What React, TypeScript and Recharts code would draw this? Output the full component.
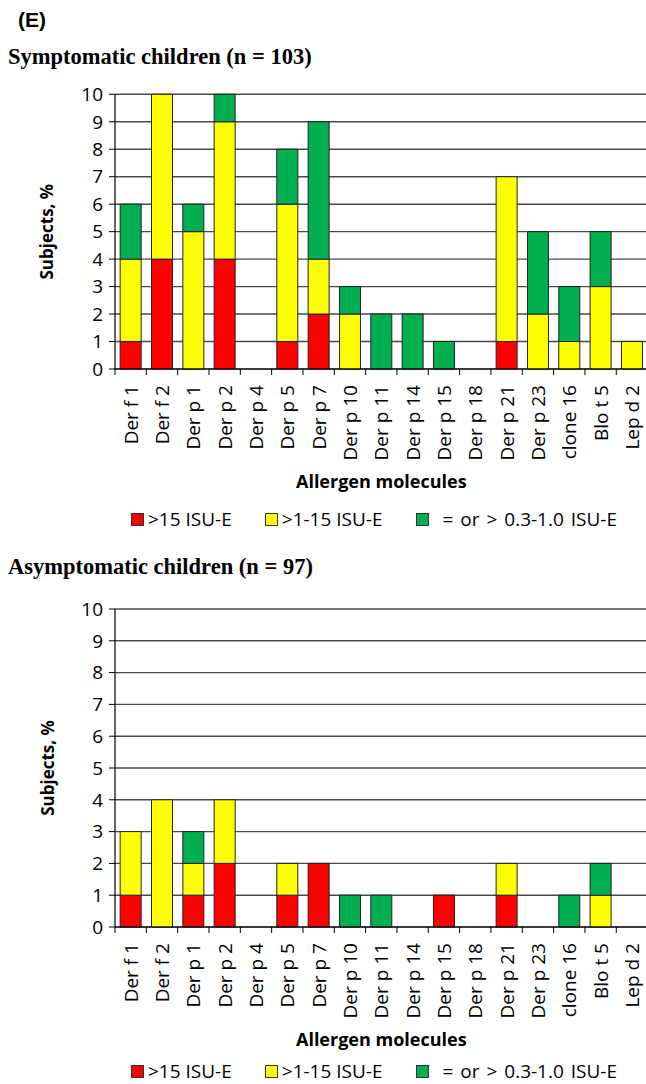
import { BarChart, Bar, XAxis, YAxis, CartesianGrid, Legend } from 'recharts'

const allergens = [
  'Der f 1', 'Der f 2', 'Der p 1', 'Der p 2', 'Der p 4', 'Der p 5', 'Der p 7', 'Der p 10',
  'Der p 11', 'Der p 14', 'Der p 15', 'Der p 18', 'Der p 21', 'Der p 23', 'clone 16', 'Blo t 5', 'Lep d 2',
]

// % of subjects per class, symptomatic group
const symHigh = [1, 4, 0, 4, 0, 1, 2, 0, 0, 0, 0, 0, 1, 0, 0, 0, 0]
const symMid = [3, 6, 5, 5, 0, 5, 2, 2, 0, 0, 0, 0, 6, 2, 1, 3, 1]
const symLow = [2, 0, 1, 1, 0, 2, 5, 1, 2, 2, 1, 0, 0, 3, 2, 2, 0]

// asymptomatic group
const asymHigh = [1, 0, 1, 2, 0, 1, 2, 0, 0, 0, 1, 0, 1, 0, 0, 0, 0]
const asymMid = [2, 4, 1, 2, 0, 1, 0, 0, 0, 0, 0, 0, 1, 0, 0, 1, 0]
const asymLow = [0, 0, 1, 0, 0, 0, 0, 1, 1, 0, 0, 0, 0, 0, 1, 1, 0]

const yTicks = [0, 1, 2, 3, 4, 5, 6, 7, 8, 9, 10]

const SERIES = [
  { key: 'high', label: '>15 ISU-E', color: '#FF0000' },
  { key: 'mid', label: '>1-15 ISU-E', color: '#FFFF00' },
  { key: 'low', label: '= or > 0.3-1.0 ISU-E', color: '#00B050' },
]

const FONT = '"Open Sans", Lato, sans-serif'
const CHART_W = 650
const Y_AXIS_W = 115
const MARGIN_RIGHT = 2.4
const PLOT_W = CHART_W - Y_AXIS_W - MARGIN_RIGHT

// eslint-disable-next-line @typescript-eslint/no-explicit-any
function AllergenTick(props: any) {
  const { x, y, payload, index, band, count } = props
  const ly = y + 16
  return (
    <g>
      <line x1={x - band / 2} x2={x - band / 2} y1={y} y2={y + 6} stroke="#000" />
      {index === count - 1 && (
        <line x1={x + band / 2} x2={x + band / 2} y1={y} y2={y + 6} stroke="#000" />
      )}
      <text
        x={x}
        y={ly}
        transform={`rotate(-90 ${x} ${ly})`}
        textAnchor="end"
        dominantBaseline="central"
        fontFamily={FONT}
        fontSize={19}
        fill="#000"
      >
        {payload.value}
      </text>
    </g>
  )
}

function LegendRow() {
  return (
    <div
      style={{
        display: 'flex',
        alignItems: 'center',
        height: 18,
        paddingLeft: 131,
        fontFamily: FONT,
        fontSize: 19,
        lineHeight: '18px',
        color: '#000',
        whiteSpace: 'nowrap',
      }}
    >
      {SERIES.map((s, i) => (
        <div key={s.key} style={{ display: 'flex', alignItems: 'center', marginLeft: i === 0 ? 0 : 33 }}>
          <span
            style={{
              display: 'inline-block',
              width: 11,
              height: 11,
              background: s.color,
              border: '1px solid #333',
              marginRight: i === 2 ? 14 : 4,
            }}
          />
          <span style={{ wordSpacing: i === 2 ? 2 : 0 }}>{s.label}</span>
        </div>
      ))}
    </div>
  )
}

interface PanelProps {
  high: number[]
  mid: number[]
  low: number[]
  height: number
  marginTop: number
  marginBottom: number
  xAxisHeight: number
}

function Panel({ high, mid, low, height, marginTop, marginBottom, xAxisHeight }: PanelProps) {
  const data = allergens.map((name, i) => ({ name, high: high[i], mid: mid[i], low: low[i] }))
  const band = PLOT_W / allergens.length

  return (
    <BarChart
      width={CHART_W}
      height={height}
      data={data}
      margin={{ top: marginTop, right: MARGIN_RIGHT, bottom: marginBottom, left: 0 }}
      barCategoryGap="16.5%"
    >
      <CartesianGrid vertical={false} stroke="#4a4a4a" strokeWidth={1.4} />
      <XAxis
        dataKey="name"
        interval={0}
        height={xAxisHeight}
        axisLine={{ stroke: '#000', strokeWidth: 1.2 }}
        tickLine={false}
        tickSize={0}
        tickMargin={0}
        // eslint-disable-next-line @typescript-eslint/no-explicit-any
        tick={(p: any) => <AllergenTick {...p} band={band} count={allergens.length} />}
        // eslint-disable-next-line @typescript-eslint/no-explicit-any
        label={(p: any) => {
          const vb = p.viewBox
          return (
            <text
              x={vb.x + vb.width / 2}
              y={vb.y + 112}
              textAnchor="middle"
              dominantBaseline="central"
              fontFamily={FONT}
              fontWeight="bold"
              fontSize={18}
              fill="#000"
            >
              Allergen molecules
            </text>
          )
        }}
      />
      <YAxis
        width={Y_AXIS_W}
        domain={[0, 10]}
        ticks={yTicks}
        interval={0}
        axisLine={{ stroke: '#000', strokeWidth: 1.2 }}
        tickLine={{ stroke: '#000' }}
        tickSize={6}
        tickMargin={6}
        tick={{ fontFamily: FONT, fontSize: 19, fill: '#000' }}
        // eslint-disable-next-line @typescript-eslint/no-explicit-any
        label={(p: any) => {
          const vb = p.viewBox
          const cx = 47
          const cy = vb.y + vb.height / 2
          return (
            <text
              x={cx}
              y={cy}
              transform={`rotate(-90 ${cx} ${cy})`}
              textAnchor="middle"
              dominantBaseline="central"
              fontFamily={FONT}
              fontWeight="bold"
              fontSize={17}
              fill="#000"
            >
              Subjects, %
            </text>
          )
        }}
      />
      {SERIES.map((s) => (
        <Bar
          key={s.key}
          dataKey={s.key}
          stackId="a"
          fill={s.color}
          stroke="#222"
          strokeWidth={1}
          isAnimationActive={false}
        />
      ))}
      <Legend verticalAlign="bottom" height={18} content={() => <LegendRow />} />
    </BarChart>
  )
}

const titleStyle = {
  position: 'absolute' as const,
  left: 8,
  fontFamily: '"Liberation Serif", "Times New Roman", serif',
  fontWeight: 'bold' as const,
  fontSize: 22.5,
  lineHeight: '26px',
  color: '#000',
  whiteSpace: 'nowrap' as const,
}

export default function App() {
  return (
    <div
      style={{
        position: 'absolute',
        left: 0,
        top: 0,
        width: 646,
        height: 1084,
        overflow: 'hidden',
        background: '#fff',
      }}
    >
      <div
        style={{
          position: 'absolute',
          left: 18,
          top: 8,
          fontFamily: '"Liberation Sans", Arial, sans-serif',
          fontWeight: 'bold',
          fontSize: 21,
          lineHeight: '24px',
        }}
      >
        (E)
      </div>
      <div style={{ ...titleStyle, top: 44 }}>Symptomatic children (n = 103)</div>
      <div style={{ position: 'absolute', left: 0, top: 0 }}>
        <Panel
          high={symHigh}
          mid={symMid}
          low={symLow}
          height={545}
          marginTop={94.3}
          marginBottom={17}
          xAxisHeight={141}
        />
      </div>
      <div style={{ ...titleStyle, top: 554 }}>Asymptomatic children (n = 97)</div>
      <div style={{ position: 'absolute', left: 0, top: 545 }}>
        <Panel
          high={asymHigh}
          mid={asymMid}
          low={asymLow}
          height={539}
          marginTop={64}
          marginBottom={4}
          xAxisHeight={135}
        />
      </div>
    </div>
  )
}
